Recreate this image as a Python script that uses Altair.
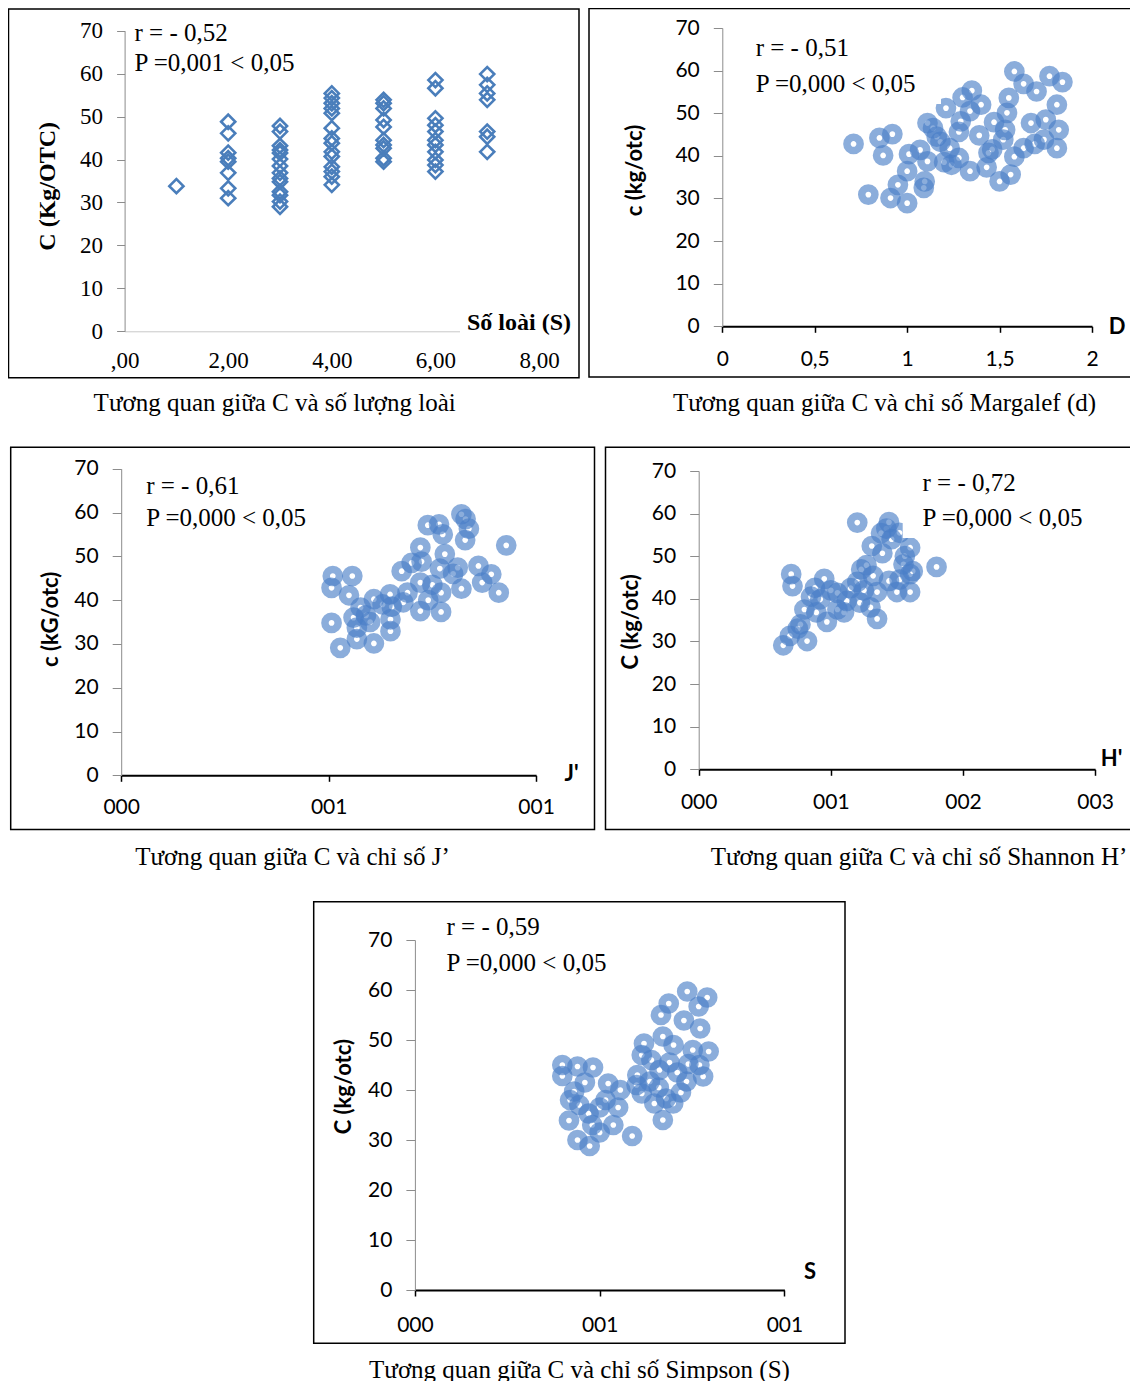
import altair as alt
import pandas as pd

# ---------------- data ----------------
species = [1, 2, 3, 4, 5, 6, 7]
carbon_by_species = [
    [33.8],
    [48.8, 46.1, 41.6, 40.3, 39.5, 36.9, 33.3, 31.0],
    [47.8, 46.5, 43.2, 42.2, 41.5, 40.1, 38.5, 36.9, 35.6, 34.8, 32.5, 31.7, 30.2, 29.0],
    [55.4, 54.3, 53.1, 51.9, 50.8, 47.3, 44.9, 43.8, 41.8, 40.7, 38.3, 37.2, 36.0, 34.1],
    [53.9, 53.1, 51.9, 49.2, 47.6, 44.5, 43.4, 42.6, 40.3, 39.5],
    [58.5, 56.6, 49.6, 48.0, 46.5, 44.5, 43.4, 41.8, 39.9, 38.7, 37.2],
    [59.9, 57.4, 55.4, 53.9, 46.5, 45.3, 41.8],
]

margalef_points = [
    (0.71, 42.8), (0.85, 44.2), (0.92, 45.1), (0.87, 40.1), (0.79, 30.9), (0.91, 30.1),
    (1.00, 28.9), (0.95, 33.2), (1.01, 40.4), (1.00, 36.4), (1.07, 41.4), (1.095, 34.0),
    (1.11, 38.7), (1.11, 47.7), (1.21, 51.2), (1.23, 41.8), (1.24, 37.9), (1.28, 39.5),
    (1.28, 45.6), (1.29, 48.1), (1.30, 53.7), (1.35, 55.3), (1.34, 50.5), (1.40, 52.0),
    (1.39, 44.8), (1.34, 36.4), (1.43, 37.3), (1.47, 47.9), (1.44, 40.7), (1.52, 43.8),
    (1.50, 34.0), (1.56, 35.6), (1.54, 50.1), (1.55, 53.6), (1.58, 59.8), (1.63, 56.9),
    (1.63, 41.8), (1.67, 47.7), (1.69, 42.8), (1.70, 55.1), (1.77, 58.7), (1.75, 48.5),
    (1.81, 52.0), (1.82, 46.1), (1.81, 41.8), (1.84, 57.3), (1.74, 43.8), (1.16, 44.5),
    (1.18, 43.3), (1.58, 39.8), (1.53, 46.1), (1.09, 32.5), (1.14, 46.5), (1.20, 38.5),
    (1.46, 41.5),
]

evenness_points = [
    (0.510, 45.5), (0.507, 42.8), (0.557, 45.5), (0.549, 41.1), (0.507, 34.8), (0.528, 29.1),
    (0.568, 33.7), (0.577, 38.3), (0.609, 40.2), (0.609, 30.1), (0.568, 31.1), (0.649, 32.9),
    (0.648, 41.3), (0.676, 46.6), (0.690, 41.7), (0.721, 52.0), (0.721, 44.0), (0.721, 37.5),
    (0.739, 57.1), (0.766, 57.3), (0.775, 55.0), (0.780, 50.5), (0.768, 47.2), (0.771, 41.7),
    (0.771, 37.3), (0.811, 47.4), (0.820, 42.6), (0.829, 53.7), (0.820, 59.6), (0.838, 56.3),
    (0.861, 47.8), (0.870, 44.0), (0.892, 45.9), (0.910, 41.7), (0.928, 52.5), (0.649, 35.6),
    (0.724, 48.8), (0.652, 38.5), (0.590, 36.5), (0.630, 39.0), (0.700, 48.5), (0.750, 43.5),
    (0.800, 46.0), (0.560, 36.0), (0.740, 40.0), (0.830, 58.5), (0.680, 39.5), (0.600, 35.0),
]

shannon_points = [
    (1.20, 57.9), (1.44, 58.0), (1.46, 54.0), (1.38, 55.4), (1.39, 50.7), (1.31, 52.4),
    (1.60, 52.0), (1.55, 48.1), (1.80, 47.5), (1.23, 46.9), (1.32, 45.4), (1.20, 44.0),
    (1.44, 44.2), (1.60, 45.8), (1.35, 41.6), (1.50, 41.6), (1.60, 41.6), (1.22, 39.1),
    (1.35, 35.3), (1.05, 41.4), (1.10, 36.8), (0.88, 42.6), (0.70, 45.8), (0.71, 43.0),
    (0.95, 44.7), (0.92, 39.9), (0.89, 36.8), (0.97, 34.6), (1.05, 37.5), (0.77, 34.0),
    (0.82, 30.1), (0.64, 29.1), (0.69, 31.3), (0.80, 37.5), (1.27, 47.9), (1.15, 42.5),
    (1.25, 42.0), (1.52, 44.5), (1.62, 46.5), (1.00, 42.0), (0.85, 40.5), (1.12, 39.5),
    (0.75, 33.0), (1.30, 38.0), (1.42, 56.5), (1.56, 50.0), (1.52, 55.5),
]

simpson_points = [
    (0.737, 59.7), (0.791, 58.5), (0.768, 56.7), (0.687, 57.3), (0.666, 55.0), (0.728, 53.9),
    (0.772, 52.3), (0.671, 50.7), (0.620, 49.3), (0.752, 48.0), (0.795, 47.7), (0.614, 47.0),
    (0.689, 45.5), (0.740, 45.2), (0.662, 44.0), (0.602, 43.0), (0.780, 42.7), (0.735, 41.7),
    (0.636, 41.7), (0.680, 38.3), (0.614, 39.3), (0.648, 37.3), (0.671, 34.0), (0.699, 37.3),
    (0.399, 45.0), (0.440, 44.7), (0.482, 44.5), (0.399, 42.8), (0.523, 41.3), (0.556, 40.0),
    (0.431, 39.7), (0.516, 38.0), (0.445, 37.0), (0.470, 35.3), (0.417, 33.9), (0.537, 33.0),
    (0.500, 31.5), (0.440, 30.0), (0.473, 28.8), (0.588, 30.8), (0.700, 49.0), (0.640, 46.0),
    (0.710, 43.5), (0.770, 45.0), (0.600, 41.0), (0.660, 40.5), (0.720, 39.5), (0.460, 41.5),
    (0.500, 36.5), (0.420, 38.0), (0.550, 36.5), (0.480, 33.0),
]

captions = [
    "Tương quan giữa C và số lượng loài",
    "Tương quan giữa C và chỉ số Margalef (d)",
    "Tương quan giữa C và chỉ số J’",
    "Tương quan giữa C và chỉ số Shannon H’",
    "Tương quan giữa C và chỉ số Simpson (S)",
]
r_texts = ["r = - 0,52", "r = - 0,51", "r = - 0,61", "r = - 0,72", "r = - 0,59"]
p_texts = ["P =0,001 < 0,05", "P =0,000 < 0,05", "P =0,000 < 0,05", "P =0,000 < 0,05", "P =0,000 < 0,05"]
y_titles = ["C (Kg/OTC)", "c (kg/otc)", "c (kG/otc)", "C (kg/otc)", "C (kg/otc)"]
x_titles = ["Số loài (S)", "D", "J'", "H'", "S"]

y_ticks = [0, 10, 20, 30, 40, 50, 60, 70]
x_ticks = [
    [0, 2, 4, 6, 8],
    [0, 0.5, 1, 1.5, 2],
    [0, 0.5, 1],
    [0, 1, 2, 3],
    [0, 0.5, 1],
]
x_tick_labels = [
    [",00", "2,00", "4,00", "6,00", "8,00"],
    ["0", "0,5", "1", "1,5", "2"],
    ["000", "001", "001"],
    ["000", "001", "002", "003"],
    ["000", "001", "001"],
]

# ---------------- layout (styles) ----------------
PAGE = 8
W, H = 1122, 1373
SERIF = "Liberation Serif"
SANS = "Lato"


def vx(v):
    return v - PAGE


def vy(v):
    return v - PAGE


def label_expr(vals, labs):
    expr = "''"
    for v, l in reversed(list(zip(vals, labs))):
        expr = f"abs(datum.value - ({v})) < 1e-9 ? '{l}' : ({expr})"
    return expr


# per-panel geometry in reference pixel coordinates
geo = [
    dict(x0=124.6, x1=539.0, xd=[0, 8], y0=331.3, y70=30.7, lab_y=360.0, ticks=False,
         font=SERIF, fsize=23, ytick=8),
    dict(x0=722.3, x1=1092.0, xd=[0, 2], y0=326.3, y70=28.0, lab_y=359.7, ticks=True,
         font=SANS, fsize=21, ytick=9),
    dict(x0=121.2, x1=536.1, xd=[0, 1], y0=775.3, y70=468.7, lab_y=807.7, ticks=True,
         font=SANS, fsize=21, ytick=9),
    dict(x0=698.7, x1=1095.1, xd=[0, 3], y0=769.3, y70=471.0, lab_y=802.7, ticks=True,
         font=SANS, fsize=21, ytick=9),
    dict(x0=414.9, x1=784.4, xd=[0, 1], y0=1290.0, y70=940.0, lab_y=1325.0, ticks=True,
         font=SANS, fsize=21, ytick=9),
]

panel_data = [
    pd.DataFrame({
        "x": [s for s, cs in zip(species, carbon_by_species) for _ in cs],
        "y": [c for cs in carbon_by_species for c in cs],
    }),
    pd.DataFrame(margalef_points, columns=["x", "y"]),
    pd.DataFrame(evenness_points, columns=["x", "y"]),
    pd.DataFrame(shannon_points, columns=["x", "y"]),
    pd.DataFrame(simpson_points, columns=["x", "y"]),
]

layers = []

# panel frames
frames = [
    (8.5, 9.0, 579.0, 377.7),
    (589.0, 8.5, 1140.0, 377.0),
    (10.7, 447.3, 594.5, 829.5),
    (605.5, 447.3, 1140.0, 829.5),
    (313.7, 901.7, 845.0, 1343.3),
]
for (a, b, c, d) in frames:
    layers.append(
        alt.Chart(pd.DataFrame({"k": [0]})).mark_rect(
            fillOpacity=0, stroke="black", strokeWidth=1.5
        ).encode(
            x=alt.value(vx(a)), x2=alt.value(vx(c)), y=alt.value(vy(b)), y2=alt.value(vy(d))
        )
    )

# scatter panels
for i, (g, df) in enumerate(zip(geo, panel_data)):
    xscale = alt.Scale(domain=g["xd"], range=[vx(g["x0"]), vx(g["x1"])], nice=False, zero=False)
    yscale = alt.Scale(domain=[0, 70], range=[vy(g["y0"]), vy(g["y70"])], nice=False, zero=False)
    if g["ticks"]:
        xaxis = alt.Axis(
            orient="bottom", offset=vy(g["y0"]) - H, values=x_ticks[i],
            labelExpr=label_expr(x_ticks[i], x_tick_labels[i]),
            domainColor="black", domainWidth=2, ticks=True, tickColor="black", tickWidth=1.5,
            tickSize=6, labelFont=g["font"], labelFontSize=g["fsize"], labelColor="black",
            labelBaseline="middle", labelPadding=(g["lab_y"] - g["y0"]) - 6,
            labelFlush=False, labelOverlap=False, labelBound=False, grid=False, title=None,
        )
    else:
        xaxis = alt.Axis(
            orient="bottom", offset=vy(g["y0"]) - H, values=x_ticks[i],
            labelExpr=label_expr(x_ticks[i], x_tick_labels[i]),
            domainColor="#c8c8c8", domainWidth=1, ticks=False,
            labelFont=g["font"], labelFontSize=g["fsize"], labelColor="black",
            labelBaseline="middle", labelPadding=(g["lab_y"] - g["y0"]),
            labelFlush=False, labelOverlap=False, labelBound=False, grid=False, title=None,
        )
    yaxis = alt.Axis(
        orient="left", offset=-vx(g["x0"]), values=y_ticks,
        domainColor="#8c8c8c", domainWidth=1, tickColor="#8c8c8c", tickSize=g["ytick"],
        labelFont=g["font"], labelFontSize=g["fsize"], labelColor="black",
        labelPadding=14, labelFlush=False, labelOverlap=False, grid=False, title=None,
    )
    if i == 0:
        mark = alt.Chart(df).mark_point(
            shape="diamond", filled=False, size=200, strokeWidth=2.6,
            color="#4a7ebb", opacity=1, clip=False,
        )
    else:
        mark = alt.Chart(df).mark_point(
            shape="circle", filled=False, size=175, strokeWidth=7.5,
            color="#4a7fc8", opacity=0.64, clip=False,
        )
    layers.append(
        mark.encode(
            x=alt.X("x:Q", scale=xscale, axis=xaxis),
            y=alt.Y("y:Q", scale=yscale, axis=yaxis),
        )
    )

# white boxes behind some labels (as in the original text boxes)
masks = [
    (460.0, 312.0, 576.0, 336.0),
    (750.0, 30.0, 941.0, 104.0),
    (902.7, 462.0, 1105.0, 538.0),
]
for (a, b, c, d) in masks:
    layers.append(
        alt.Chart(pd.DataFrame({"k": [0]})).mark_rect(color="white").encode(
            x=alt.value(vx(a)), x2=alt.value(vx(c)), y=alt.value(vy(b)), y2=alt.value(vy(d))
        )
    )


def text_layer(s, x, y, size, font, bold=False, align="left", angle=0):
    return alt.Chart(pd.DataFrame({"t": [s]})).mark_text(
        align=align, baseline="middle", font=font, fontSize=size,
        fontWeight="bold" if bold else "normal", angle=angle, color="black",
    ).encode(x=alt.value(vx(x)), y=alt.value(vy(y)), text="t:N")


# annotations (r and P)
ann_pos = [(134.5, 33.0, 63.0), (755.7, 48.0, 84.0), (146.2, 486.0, 517.7),
           (922.5, 483.3, 517.7), (446.5, 926.7, 963.3)]
for i, (x, yr, yp) in enumerate(ann_pos):
    layers.append(text_layer(r_texts[i], x, yr, 25, SERIF))
    layers.append(text_layer(p_texts[i], x, yp, 25, SERIF))

# captions
cap_pos = [(274.7, 403.3), (884.5, 403.3), (292.5, 857.0), (919.0, 857.0), (579.5, 1369.5)]
for i, (x, y) in enumerate(cap_pos):
    layers.append(text_layer(captions[i], x, y, 25, SERIF, align="center"))

# y-axis titles (rotated)
yt_pos = [(48.3, 186.3, SERIF, 24), (635.4, 170.5, SANS, 22), (51.0, 619.3, SANS, 22),
          (631.2, 621.8, SANS, 22), (344.4, 1086.7, SANS, 22)]
for i, (x, y, f, s) in enumerate(yt_pos):
    layers.append(text_layer(y_titles[i], x, y, s, f, bold=True, align="center", angle=270))

# x-axis titles
xt_pos = [(571.0, 323.0, SERIF, 24, "right"), (1117.0, 327.0, SANS, 22, "center"),
          (571.6, 774.3, SANS, 22, "center"), (1111.5, 759.3, SANS, 22, "center"),
          (810.0, 1271.7, SANS, 22, "center")]
for i, (x, y, f, s, al) in enumerate(xt_pos):
    layers.append(text_layer(x_titles[i], x, y, s, f, bold=True, align=al))

chart = alt.layer(*layers).resolve_scale(
    x="independent", y="independent"
).resolve_axis(
    x="independent", y="independent"
).properties(
    width=W, height=H, padding=0,
    autosize=alt.AutoSizeParams(type="none"),
).configure_view(strokeWidth=0)

chart.save("out.html", embed_options={"renderer": "svg", "actions": False})
